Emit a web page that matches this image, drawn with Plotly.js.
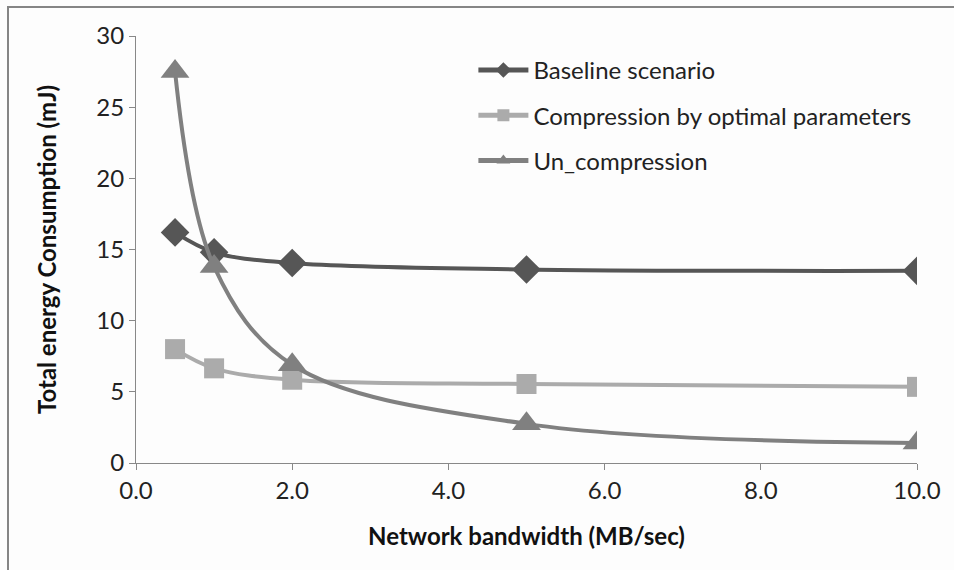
<!DOCTYPE html>
<html>
<head>
<meta charset="utf-8">
<script src="https://cdn.plot.ly/plotly-3.0.1.min.js"></script>
<style>
  html, body { margin: 0; padding: 0; background: #fdfdfd; }
  #wrap { position: relative; width: 954px; height: 570px; }
  #chart { width: 954px; height: 570px; }
  #frame { position: absolute; left: 7px; top: 6px; right: 0; bottom: 0;
           border-top: 2px solid #858585; border-left: 2px solid #858585; pointer-events: none; }
</style>
</head>
<body>
<div id="wrap"><div id="chart"></div><div id="frame"></div></div>
<script>
const bandwidth = [0.5, 1, 2, 5, 10];
const baseline = [16.2, 14.8, 14.05, 13.6, 13.5];
const compression = [8.0, 6.65, 5.85, 5.55, 5.35];
const uncompression = [27.5, 13.8, 6.9, 2.75, 1.4];
const seriesNames = ['Baseline scenario', 'Compression by optimal parameters', 'Un_compression'];
const xTickVals = [0, 2, 4, 6, 8, 10];
const xTickText = ['0.0', '2.0', '4.0', '6.0', '8.0', '10.0'];

const font = 'Lato, "Open Sans", sans-serif';

function trace(y, name, color, symbol, size, grp) {
  return {
    x: bandwidth, y: y, name: name, type: 'scatter', mode: 'lines+markers',
    legendgroup: grp,
    line: { color: color, width: 4, shape: 'spline', smoothing: 1 },
    marker: { color: color, symbol: symbol, size: size }
  };
}

const data = [
  trace(baseline, seriesNames[0], '#565656', 'diamond', 22, 'a'),
  trace(compression, seriesNames[1], '#ababab', 'square', 20, 'b'),
  trace(uncompression, seriesNames[2], '#808080', 'triangle-up', 25, 'c')
];

const layout = {
  width: 954, height: 570,
  paper_bgcolor: '#fdfdfd', plot_bgcolor: '#fdfdfd',
  margin: { l: 136, r: 37, t: 36, b: 107 },
  font: { family: font, color: '#222', size: 24 },
  showlegend: true,
  legend: {
    x: 0.432, y: 0.972, xanchor: 'left', yanchor: 'top',
    bgcolor: 'rgba(0,0,0,0)', font: { size: 24, color: '#222' },
    tracegroupgap: 11, traceorder: 'grouped', itemsizing: 'constant', itemwidth: 50
  },
  xaxis: {
    range: [0, 10], tickvals: xTickVals, ticktext: xTickText,
    showgrid: false, zeroline: false, showline: true, linecolor: '#888', linewidth: 1,
    ticks: 'outside', ticklen: 6, tickcolor: '#888',
    tickfont: { size: 24, color: '#222' },
    title: { text: '<b>Network bandwidth (MB/sec)</b>', font: { size: 24, family: font, color: '#111' }, standoff: 25 }
  },
  yaxis: {
    range: [0, 30], dtick: 5,
    showgrid: false, zeroline: false, showline: true, linecolor: '#888', linewidth: 1,
    ticks: 'outside', ticklen: 6, tickcolor: '#888',
    tickfont: { size: 24, color: '#222' },
    title: { text: '<b>Total energy Consumption (mJ)</b>', font: { size: 24, family: font, color: '#111' }, standoff: 32 }
  }
};

Plotly.newPlot('chart', data, layout, { displayModeBar: false, staticPlot: true });
</script>
</body>
</html>
